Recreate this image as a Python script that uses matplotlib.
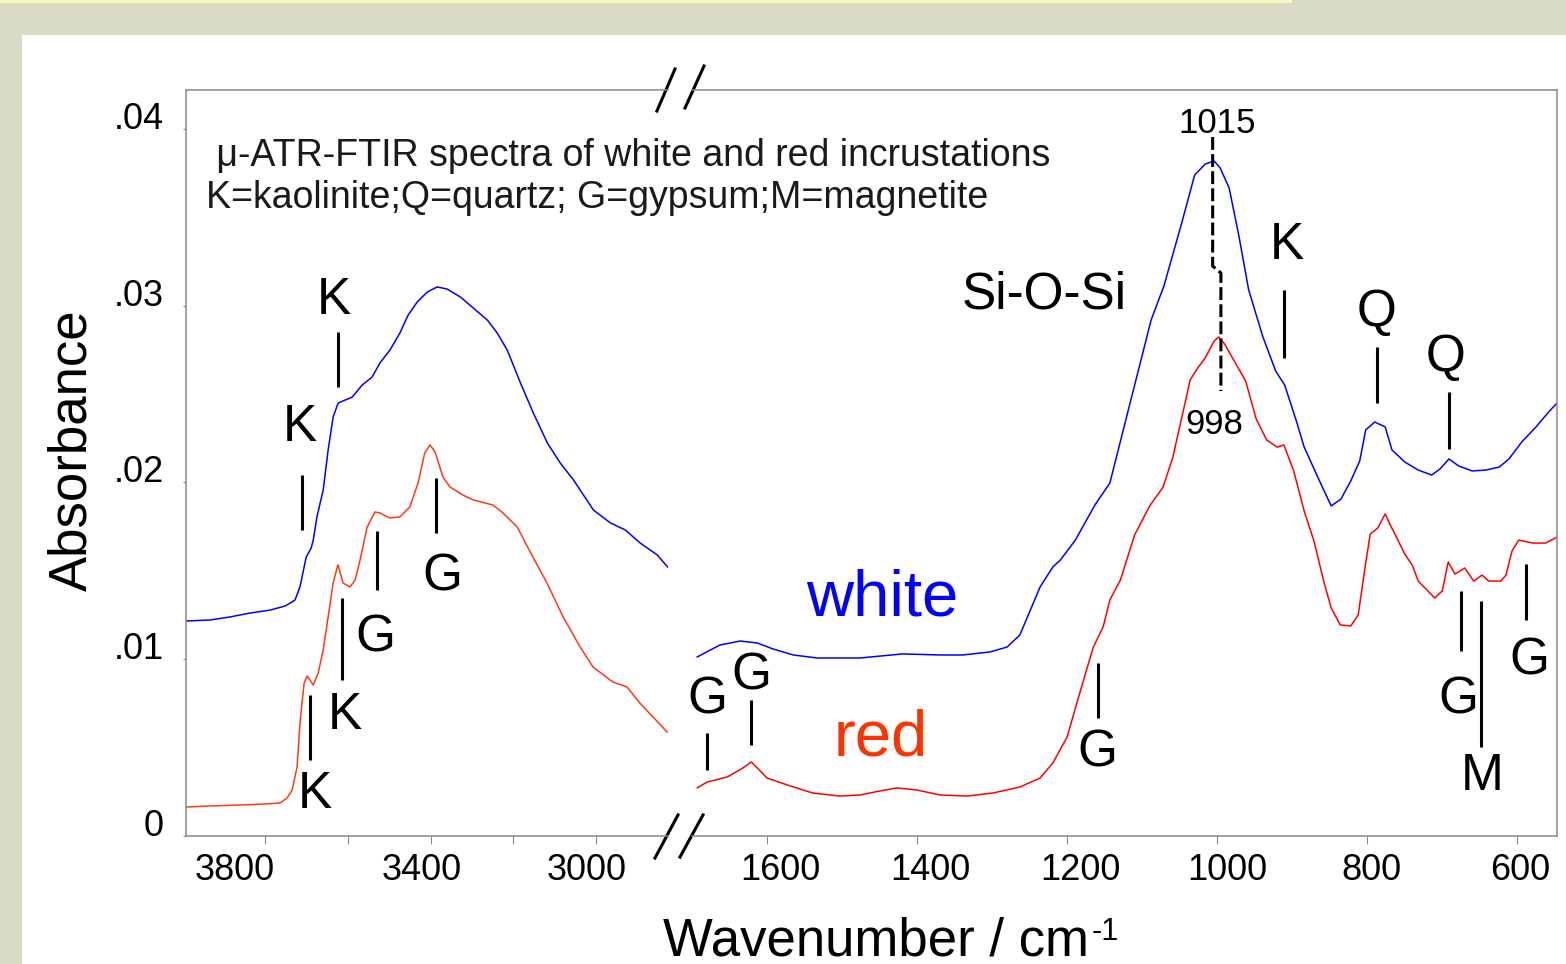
""" u-ATR-FTIR spectra of white and red incrustations (broken wavenumber axis) """

# imports
import matplotlib
matplotlib.use('Agg')
import matplotlib.pyplot as plt
from matplotlib.patches import Rectangle
from matplotlib.transforms import ScaledTranslation

plt.rcParams['font.family'] = ['Liberation Sans', 'DejaVu Sans']

# --- spectra, high wavenumber region (cm-1, absorbance)
white_hi_wn = [3990, 3932, 3884, 3836, 3787, 3751, 3734, 3727, 3715, 3700, 3688, 3683,
               3674, 3659, 3647, 3635, 3623, 3589, 3565, 3541, 3522, 3498, 3474, 3454,
               3432, 3408, 3384, 3360, 3328, 3297, 3263, 3239, 3215, 3183, 3152, 3118,
               3087, 3055, 3007, 2966, 2930, 2894, 2853, 2828]
white_hi_abs = [0.01216, 0.01222, 0.01239, 0.01261, 0.01278, 0.01301, 0.01324, 0.01335,
                0.01409, 0.01578, 0.01629, 0.01674, 0.01805, 0.01957, 0.02184, 0.02370,
                0.02449, 0.02483, 0.02551, 0.02596, 0.02676, 0.02749, 0.02845, 0.02947,
                0.03021, 0.03077, 0.03106, 0.03094, 0.03049, 0.02987, 0.02919, 0.02845,
                0.02749, 0.02563, 0.02393, 0.02223, 0.02110, 0.02014, 0.01844, 0.01771,
                0.01731, 0.01657, 0.01590, 0.01522]

red_hi_wn = [3988, 3932, 3860, 3799, 3763, 3746, 3734, 3722, 3715, 3705, 3698, 3691,
             3683, 3671, 3659, 3647, 3635, 3625, 3623, 3611, 3594, 3582, 3570, 3553,
             3534, 3522, 3498, 3474, 3450, 3430, 3414, 3401, 3389, 3370, 3353, 3322,
             3297, 3249, 3225, 3191, 3153, 3119, 3080, 3039, 3008, 2960, 2926, 2895,
             2863, 2829]
red_hi_abs = [0.00164, 0.00170, 0.00175, 0.00181, 0.00187, 0.00215, 0.00260, 0.00390,
              0.00639, 0.00865, 0.00905, 0.00882, 0.00854, 0.00922, 0.01052, 0.01239,
              0.01431, 0.01522, 0.01533, 0.01431, 0.01409, 0.01448, 0.01561, 0.01748,
              0.01833, 0.01827, 0.01799, 0.01805, 0.01861, 0.01997, 0.02167, 0.02212,
              0.02172, 0.02031, 0.01974, 0.01929, 0.01901, 0.01872, 0.01827, 0.01748,
              0.01578, 0.01431, 0.01239, 0.01069, 0.00956, 0.00871, 0.00843, 0.00752,
              0.00673, 0.00588]

# --- spectra, fingerprint region
white_lo_wn = [1693, 1663, 1636, 1613, 1592, 1565, 1533, 1476, 1449, 1419, 1369, 1339,
               1303, 1280, 1263, 1249, 1236, 1219, 1209, 1189, 1163, 1143, 1111, 1088,
               1071, 1048, 1030, 1016, 1004, 996, 984, 971, 958, 939, 922, 910, 894, 884,
               866, 848, 835, 822, 810, 802, 790, 776, 767, 750, 732, 714, 703, 691, 678,
               660, 642, 624, 611, 594, 575, 558, 547]
white_lo_abs = [0.01013, 0.01080, 0.01103, 0.01092, 0.01058, 0.01024, 0.01007, 0.01007,
                0.01018, 0.01030, 0.01024, 0.01024, 0.01041, 0.01069, 0.01137, 0.01278,
                0.01409, 0.01522, 0.01561, 0.01674, 0.01872, 0.01997, 0.02534, 0.02919,
                0.03111, 0.03456, 0.03739, 0.03801, 0.03818, 0.03779, 0.03666, 0.03394,
                0.03089, 0.02823, 0.02630, 0.02551, 0.02342, 0.02200, 0.02031, 0.01867,
                0.01906, 0.02008, 0.02121, 0.02297, 0.02342, 0.02314, 0.02184, 0.02116,
                0.02070, 0.02042, 0.02076, 0.02133, 0.02093, 0.02065, 0.02070, 0.02087,
                0.02133, 0.02229, 0.02314, 0.02399, 0.02449]

red_lo_wn = [1693, 1680, 1653, 1632, 1621, 1613, 1600, 1569, 1539, 1503, 1476, 1449,
             1427, 1400, 1369, 1333, 1299, 1263, 1236, 1219, 1200, 1187, 1173, 1165,
             1152, 1143, 1129, 1110, 1090, 1072, 1059, 1044, 1036, 1026, 1016, 1004,
             998, 990, 975, 962, 948, 934, 920, 911, 898, 884, 871, 858, 848, 836, 822,
             812, 803, 796, 786, 776, 770, 763, 750, 740, 732, 719, 710, 700, 692, 683,
             670, 658, 647, 638, 622, 615, 607, 598, 579, 562, 547]
red_lo_abs = [0.00272, 0.00305, 0.00334, 0.00385, 0.00419, 0.00385, 0.00328, 0.00283,
              0.00243, 0.00226, 0.00232, 0.00255, 0.00272, 0.00260, 0.00232, 0.00226,
              0.00243, 0.00277, 0.00328, 0.00413, 0.00560, 0.00752, 0.00956, 0.01069,
              0.01182, 0.01335, 0.01448, 0.01703, 0.01867, 0.01974, 0.02144, 0.02427,
              0.02580, 0.02647, 0.02704, 0.02800, 0.02823, 0.02783, 0.02670, 0.02574,
              0.02359, 0.02240, 0.02200, 0.02212, 0.02065, 0.01838, 0.01669, 0.01442,
              0.01290, 0.01194, 0.01188, 0.01250, 0.01516, 0.01708, 0.01742, 0.01822,
              0.01765, 0.01708, 0.01595, 0.01533, 0.01442, 0.01386, 0.01346, 0.01386,
              0.01550, 0.01482, 0.01516, 0.01442, 0.01476, 0.01442, 0.01442, 0.01476,
              0.01612, 0.01674, 0.01657, 0.01657, 0.01691]

# --- band assignments: (label, wavenumber, line bottom, line top, label x, label y)
bands_hi = [('K', 3710, 0.01731, 0.02042, 3715, 0.02308),
            ('K', 3623, 0.02540, 0.02851, 3633, 0.03032),
            ('G', 3529, 0.01392, 0.01725, 3532, 0.01120),
            ('G', 3387, 0.01714, 0.02025, 3372, 0.01465),
            ('K', 3614, 0.00882, 0.01346, 3606, 0.00684),
            ('K', 3691, 0.00430, 0.00798, 3679, 0.00232)]
bands_lo = [('G', 1680, 0.00373, 0.00583, 1679, 0.00769),
            ('G', 1621, 0.00515, 0.00769, 1621, 0.00905),
            ('G', 1159, 0.00667, 0.00979, 1160, 0.00470),
            ('K', 911, 0.02704, 0.03089, 907, 0.03343),
            ('Q', 787, 0.02449, 0.02766, 788, 0.02964),
            ('Q', 691, 0.02189, 0.02512, 696, 0.02704),
            ('G', 675, 0.01047, 0.01386, 678, 0.00769),
            ('M', 648, 0.00503, 0.01329, 647, 0.00339),
            ('G', 588, 0.01222, 0.01539, 584, 0.00990)]

# Si-O-Si band shift 1015 -> 998
shift_wn = [1006, 1006, 995, 995]
shift_abs = [0.03954, 0.03224, 0.03185, 0.02517]

# axes
hi_ticks = [3800, 3600, 3400, 3200, 3000]
hi_labels = ['3800', '', '3400', '', '3000']
hi_label_shift = [-30, 0, -9, 0, -10]     # px, labels sit a bit off their ticks
lo_ticks = [1600, 1400, 1200, 1000, 800, 600]
lo_label_shift = [13, 13, 13, 10, 4, 3]
y_ticks = [0, 0.01, 0.02, 0.03, 0.04]
y_labels = ['0', '.01', '.02', '.03', '.04']

W, H = 1566, 964
blue = '#0000ff'
red_hi = '#ff3a10'
red_lo = '#ff0000'
grey = '#8a8a8a'

fig = plt.figure(figsize=(W / 100, H / 100), dpi=100)
fig.patch.set_facecolor('#d9dbc4')
fig.add_artist(Rectangle((22 / W, 0), 1 - 22 / W, 1 - 35 / H, transform=fig.transFigure,
                         facecolor='white', edgecolor='none', zorder=-10))
fig.add_artist(Rectangle((0, 1 - 3 / H), 1292 / W, 3 / H, transform=fig.transFigure,
                         facecolor='#fbf7c2', edgecolor='none', zorder=-10))

bottom, height = 128 / H, 746 / H
ax1 = fig.add_axes([186 / W, bottom, 482 / W, height])
ax2 = fig.add_axes([692 / W, bottom, 865 / W, height])

for ax in (ax1, ax2):
    ax.set_facecolor('none')
    ax.set_ylim(0, 0.0422)
    for s in ax.spines.values():
        s.set_color(grey)
        s.set_linewidth(1.1)
    ax.tick_params(axis='x', direction='out', length=6, width=0.8, color=grey,
                   labelsize=26, pad=6.5)
ax1.spines['right'].set_visible(False)
ax2.spines['left'].set_visible(False)

ax1.set_xlim(3990, 2827)
ax2.set_xlim(1700, 547)
ax1.set_xticks(hi_ticks)
ax1.set_xticklabels(hi_labels)
ax2.set_xticks(lo_ticks)
ax2.set_xticklabels([str(t) for t in lo_ticks])
ax1.set_yticks(y_ticks)
ax1.set_yticklabels(y_labels)
ax1.tick_params(axis='y', direction='out', length=2, width=0.8, color=grey,
                labelsize=26, pad=14)
for lbl in ax1.get_yticklabels():
    lbl.set_va('baseline')
ax2.set_yticks([])

# nudge x tick labels to where they sit in the original figure
for ax, shifts in ((ax1, hi_label_shift), (ax2, lo_label_shift)):
    for lbl, dx in zip(ax.get_xticklabels(), shifts):
        lbl.set_transform(lbl.get_transform() + ScaledTranslation(dx / 100, 0, fig.dpi_scale_trans))

# spectra
ax1.plot(white_hi_wn, white_hi_abs, color=blue, lw=1.1)
ax1.plot(red_hi_wn, red_hi_abs, color=red_hi, lw=1.1)
ax2.plot(white_lo_wn, white_lo_abs, color=blue, lw=1.1)
ax2.plot(red_lo_wn, red_lo_abs, color=red_lo, lw=1.1)

# band marks
for ax, bands in ((ax1, bands_hi), (ax2, bands_lo)):
    for lab, wn, y0, y1, tx, ty in bands:
        ax.plot([wn, wn], [y0, y1], color='black', lw=2.2, solid_capstyle='butt')
        ax.text(tx, ty, lab, fontsize=37, ha='center', va='center', color='black')

ax2.plot(shift_wn, shift_abs, color='black', lw=2.2, dashes=(4.2, 1.4))
ax2.text(1000, 0.04033, '1015', fontsize=25, ha='center', va='center')
ax2.text(1004, 0.02325, '998', fontsize=25, ha='center', va='center')
ax2.text(1231, 0.03060, 'Si-O-Si', fontsize=37, ha='center', va='center')
ax2.text(1447, 0.01346, 'white', fontsize=47, ha='center', va='center', color=blue)
ax2.text(1448, 0.00554, 'red', fontsize=47, ha='center', va='center', color='#ff3300')

# axis break marks
breaks = [((0.977, 1.0145), (0.9718, 1.0282)), ((1.0353, 1.0747), (0.9759, 1.0322)),
          ((0.973, 1.0207), (-0.0295, 0.0282)), ((1.0249, 1.0726), (-0.0282, 0.0282))]
for bx, by in breaks:
    ax1.plot(bx, by, transform=ax1.transAxes, color='black', lw=2.2, clip_on=False)

# titles / labels
fig.text(206 / W, 1 - 166 / H, u' \u03bc-ATR-FTIR spectra of white and red incrustations',
         fontsize=27, ha='left', va='baseline', color='#1a1a1a')
fig.text(206 / W, 1 - 208 / H, 'K=kaolinite;Q=quartz; G=gypsum;M=magnetite',
         fontsize=27, ha='left', va='baseline', color='#1a1a1a')
fig.text(663 / W, 9 / H, 'Wavenumber / cm', fontsize=38, ha='left', va='baseline')
fig.text(1092 / W, 24 / H, '-1', fontsize=22, ha='left', va='baseline')
fig.text(72 / W, 1 - 450 / H, 'Absorbance', fontsize=38, rotation=90, ha='center', va='center')

fig.savefig('out.png', dpi=100, facecolor=fig.get_facecolor())
